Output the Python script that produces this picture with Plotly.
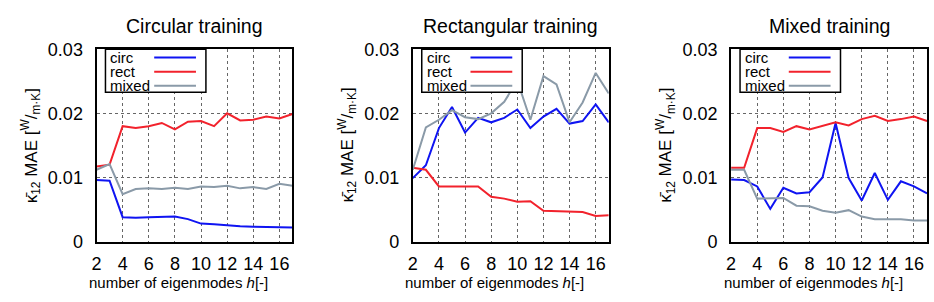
import plotly.graph_objects as go

W, H = 934, 302

h = list(range(2, 18))

titles = ["Circular training", "Rectangular training", "Mixed training"]
series_names = ["circ", "rect", "mixed"]

# Circular training
circ_train_circ = [0.0096, 0.0095, 0.0038, 0.0037, 0.0038, 0.0038, 0.0039, 0.0035,
                   0.0028, 0.0027, 0.0025, 0.0024, 0.0023, 0.0023, 0.0023, 0.0022]
circ_train_rect = [0.0117, 0.0120, 0.0180, 0.0177, 0.0180, 0.0185, 0.0175, 0.0187,
                   0.0188, 0.0180, 0.0200, 0.0189, 0.0190, 0.0195, 0.0192, 0.0199]
circ_train_mixed = [0.0112, 0.0121, 0.0074, 0.0082, 0.0083, 0.0082, 0.0084, 0.0082,
                    0.0086, 0.0085, 0.0087, 0.0083, 0.0085, 0.0082, 0.0090, 0.0087]

# Rectangular training
rect_train_circ = [0.0099, 0.0119, 0.0177, 0.0210, 0.0170, 0.0193, 0.0186, 0.0193,
                   0.0206, 0.0177, 0.0195, 0.0207, 0.0184, 0.0188, 0.0214, 0.0186]
rect_train_rect = [0.0115, 0.0112, 0.0086, 0.0086, 0.0086, 0.0086, 0.0070, 0.0067,
                   0.0062, 0.0063, 0.0048, 0.0047, 0.0047, 0.0046, 0.0040, 0.0041]
rect_train_mixed = [0.0112, 0.0178, 0.0190, 0.0205, 0.0194, 0.0191, 0.0200, 0.0218,
                    0.0251, 0.0190, 0.0258, 0.0245, 0.0186, 0.0217, 0.0263, 0.0231]

# Mixed training
mixed_train_circ = [0.0097, 0.0096, 0.0086, 0.0051, 0.0084, 0.0075, 0.0077, 0.0100,
                    0.0185, 0.0099, 0.0064, 0.0107, 0.0065, 0.0094, 0.0086, 0.0075]
mixed_train_rect = [0.0115, 0.0115, 0.0177, 0.0177, 0.0171, 0.0180, 0.0175, 0.0181,
                    0.0186, 0.0181, 0.0191, 0.0196, 0.0188, 0.0191, 0.0195, 0.0188]
mixed_train_mixed = [0.0112, 0.0112, 0.0067, 0.0067, 0.0068, 0.0056, 0.0055, 0.0048,
                     0.0045, 0.0049, 0.0039, 0.0035, 0.0035, 0.0035, 0.0033, 0.0033]

panels = [
    [circ_train_circ, circ_train_rect, circ_train_mixed],
    [rect_train_circ, rect_train_rect, rect_train_mixed],
    [mixed_train_circ, mixed_train_rect, mixed_train_mixed],
]

x_tickvals = [2, 4, 6, 8, 10, 12, 14, 16]
y_tickvals = [0, 0.01, 0.02, 0.03]
y_ticktext = ["0", "0.01", "0.02", "0.03"]

colors = ["#0f14f2", "#f2222c", "#8a9aa8"]
FONT = "Liberation Sans, Arial, sans-serif"

# panel pixel geometry
px_left = [92, 410, 730]
px_width = 197
px_top, px_bottom = 42, 248


def px2x(px):
    return px / W


def px2y(py):
    return 1 - py / H


fig = go.Figure()
layout = dict(
    width=W, height=H,
    margin=dict(l=0, r=0, t=0, b=0),
    paper_bgcolor="white", plot_bgcolor="white",
    showlegend=False,
    font=dict(family=FONT, size=15, color="black"),
)
annotations = []
shapes = []

for i, data in enumerate(panels):
    xa = "x" if i == 0 else f"x{i+1}"
    ya = "y" if i == 0 else f"y{i+1}"
    for j, vals in enumerate(data):
        fig.add_trace(go.Scatter(x=h, y=vals, mode="lines", name=series_names[j],
                                 line=dict(color=colors[j], width=2),
                                 xaxis=xa, yaxis=ya))
    xkey = "xaxis" if i == 0 else f"xaxis{i+1}"
    ykey = "yaxis" if i == 0 else f"yaxis{i+1}"
    L = px_left[i]
    layout[xkey] = dict(
        domain=[px2x(L), px2x(L + px_width)], anchor=ya, range=[2, 17],
        tickvals=x_tickvals, showgrid=True, gridcolor="#666666", griddash="dot",
        gridwidth=1, showline=True, linecolor="black", linewidth=2, mirror=True,
        zeroline=False, ticks="", tickfont=dict(size=18, family=FONT),
        ticklabelstandoff=5,
    )
    layout[ykey] = dict(
        domain=[px2y(px_bottom), px2y(px_top)], anchor=xa, range=[0, 0.03],
        tickvals=y_tickvals, ticktext=y_ticktext, showgrid=True, gridcolor="#666666",
        griddash="dot", gridwidth=1, showline=True, linecolor="black", linewidth=2,
        mirror=True, zeroline=False, ticks="", tickfont=dict(size=18, family=FONT),
        ticklabelstandoff=8,
    )
    # title
    annotations.append(dict(text=titles[i], x=px2x(L + px_width / 2), y=px2y(17),
                            xref="paper", yref="paper", showarrow=False,
                            font=dict(size=19.5, family=FONT), xanchor="center", yanchor="middle"))
    # x label
    annotations.append(dict(text="number of eigenmodes <i>h</i>[-]", x=px2x(L + px_width / 2 - 16),
                            y=px2y(292), xref="paper", yref="paper", showarrow=False,
                            font=dict(size=15, family=FONT), xanchor="center", yanchor="middle"))
    # y label
    annotations.append(dict(text="κ̄<sub>12</sub> MAE [<sup>W</sup>/<sub>m·K</sub>]",
                            x=px2x(L - 66), y=px2y(145),
                            xref="paper", yref="paper", showarrow=False, textangle=-90,
                            font=dict(size=17, family=FONT), xanchor="center", yanchor="middle"))
    # legend box
    bx0, bx1, by0, by1 = L + 9, L + 110, px_top, 88
    shapes.append(dict(type="rect", xref="paper", yref="paper",
                       x0=px2x(bx0), x1=px2x(bx1), y0=px2y(by1), y1=px2y(by0),
                       line=dict(color="black", width=1.5), fillcolor="white", layer="above"))
    for j, name in enumerate(series_names):
        ry = 51 + j * 15
        annotations.append(dict(text=name, x=px2x(L + 12), y=px2y(ry), xref="paper", yref="paper",
                                showarrow=False, xanchor="left", yanchor="middle",
                                font=dict(size=15, family=FONT)))
        shapes.append(dict(type="line", xref="paper", yref="paper",
                           x0=px2x(L + 58), x1=px2x(L + 100), y0=px2y(ry), y1=px2y(ry),
                           line=dict(color=colors[j], width=2), layer="above"))

layout["annotations"] = annotations
layout["shapes"] = shapes
fig.update_layout(**layout)
fig.write_html("out.html")
